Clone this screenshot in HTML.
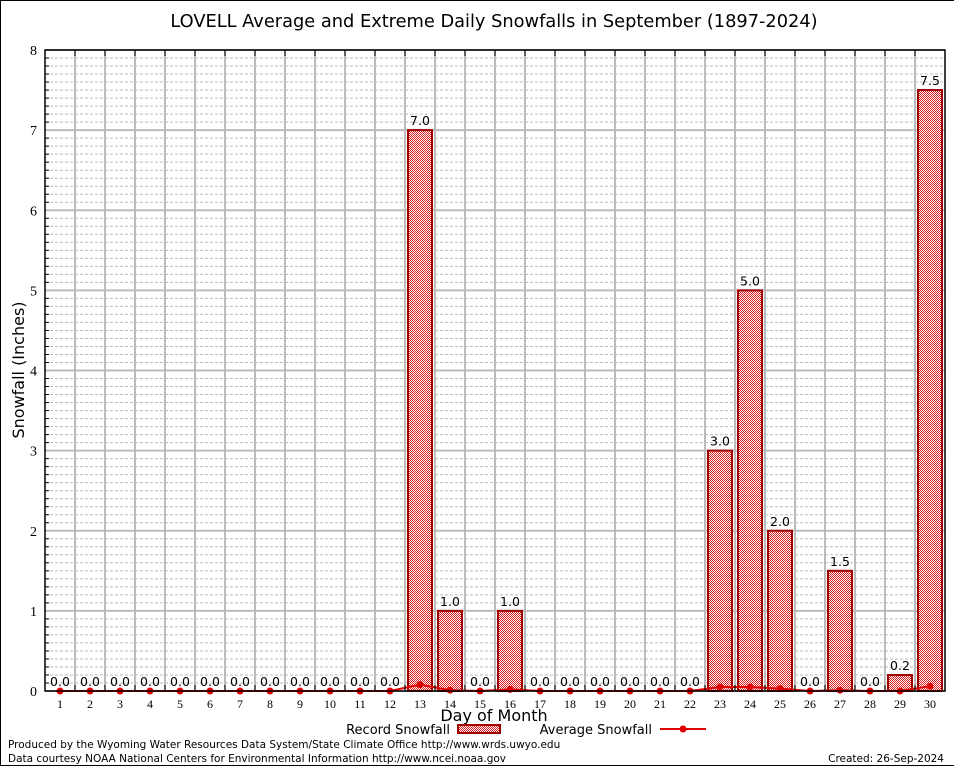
<!DOCTYPE html>
<html><head><meta charset="utf-8"><style>
body{margin:0;background:#fff;}
svg{display:block;font-family:"DejaVu Sans","Liberation Sans",sans-serif;}
</style></head><body>
<svg id="c" width="954" height="768" xmlns="http://www.w3.org/2000/svg">
<defs><pattern id="chk" width="2" height="2" patternUnits="userSpaceOnUse"><rect width="2" height="2" fill="#fff"/><rect width="1" height="1" fill="#d82020"/><rect x="1" y="1" width="1" height="1" fill="#d82020"/></pattern></defs>
<rect x="0.5" y="0.5" width="960" height="765" fill="none" stroke="#000"/>
<text x="494" y="27" font-size="17.8" text-anchor="middle">LOVELL Average and Extreme Daily Snowfalls in September (1897-2024)</text>
<g id="grid"></g><g id="bars"></g><g id="avg"></g><g id="axes"></g>
<text x="24" y="370" font-size="16" text-anchor="middle" transform="rotate(-90 24 370)">Snowfall (Inches)</text>
<text x="494" y="721" font-size="16" text-anchor="middle">Day of Month</text>
<g>
<text x="450" y="734" font-size="13" text-anchor="end">Record Snowfall</text>
<rect x="458" y="725" width="42" height="8" fill="url(#chk)" stroke="#a00000" stroke-width="2"/>
<text x="652" y="734" font-size="13" text-anchor="end">Average Snowfall</text>
<line x1="660" y1="729" x2="706" y2="729" stroke="#e00000" stroke-width="2"/>
<circle cx="683" cy="729" r="3.5" fill="#e00000"/>
</g>
<text x="8" y="748" font-size="10.5">Produced by the Wyoming Water Resources Data System/State Climate Office http://www.wrds.uwyo.edu</text>
<text x="8" y="762" font-size="10.5">Data courtesy NOAA National Centers for Environmental Information http://www.ncei.noaa.gov</text>
<text x="944" y="762" font-size="10.5" text-anchor="end">Created: 26-Sep-2024</text>
</svg>
<script>
const days=[1,2,3,4,5,6,7,8,9,10,11,12,13,14,15,16,17,18,19,20,21,22,23,24,25,26,27,28,29,30];
const recordValues=[0,0,0,0,0,0,0,0,0,0,0,0,7.0,1.0,0,1.0,0,0,0,0,0,0,3.0,5.0,2.0,0,1.5,0,0.2,7.5];
const averageValues=[0,0,0,0,0,0,0,0,0,0,0,0,0.08,0.01,0,0.02,0,0,0,0,0,0,0.05,0.05,0.03,0,0.01,0,0.0,0.06];
const yTicks=[0,1,2,3,4,5,6,7,8];
const L=45,R=945,T=50,B=691,YMAX=8;
const NS="http://www.w3.org/2000/svg";
const xs=d=>L+(d-0.5)*(R-L)/days.length;
const ys=v=>B-v/YMAX*(B-T);
function mk(p,t,a){const e=document.createElementNS(NS,t);for(const k in a)e.setAttribute(k,a[k]);p.appendChild(e);return e;}
const g=document.getElementById('grid'),bg=document.getElementById('bars'),ag=document.getElementById('avg'),ax=document.getElementById('axes');
for(let i=1;i<YMAX*10;i++){if(i%10==0)continue;const l=mk(g,'line',{x1:L,x2:R,y1:ys(i/10),y2:ys(i/10),stroke:'#bbb','stroke-dasharray':'3,2','stroke-width':1});


const tk=mk(ax,'line',{x1:L,x2:L+4,y1:ys(i/10),y2:ys(i/10),stroke:'#000'});

}
yTicks.forEach(v=>{const l=mk(g,'line',{x1:L,x2:R,y1:ys(v),y2:ys(v),stroke:'#bbb','stroke-width':2});


const t=mk(ax,'text',{x:L-8,y:ys(v)+5,'font-size':14,'text-anchor':'end','font-family':'Liberation Serif,serif'});t.textContent=v;

});
days.forEach((d,i)=>{const x=xs(d)+15;if(i<days.length-1){const l=mk(g,'line',{x1:x,x2:x,y1:T,y2:B,stroke:'#bbb','stroke-width':2});


const tk=mk(ax,'line',{x1:x,x2:x,y1:T,y2:T+6,stroke:'#000'});


const tb=mk(ax,'line',{x1:x,x2:x,y1:B,y2:B-6,stroke:'#000'});

}
const t=mk(ax,'text',{x:xs(d),y:B+17,'font-size':12,'text-anchor':'middle','font-family':'Liberation Serif,serif'});t.textContent=d;

});
const fr=mk(ax,'rect',{x:L,y:T,width:R-L,height:B-T,fill:'none',stroke:'#000','stroke-width':1.5});


days.forEach((d,i)=>{const v=recordValues[i];
if(v>0){const r=mk(bg,'rect',{x:xs(d)-12,y:ys(v),width:24,height:B-ys(v),fill:'url(#chk)',stroke:'#a00000','stroke-width':2});

}
const t=mk(bg,'text',{x:xs(d),y:ys(v)-5,'font-size':12.5,'text-anchor':'middle'});t.textContent=v.toFixed(1);

});
const pl=mk(ag,'polyline',{points:days.map((d,i)=>xs(d)+','+ys(averageValues[i])).join(' '),fill:'none',stroke:'#e00000','stroke-width':2});


days.forEach((d,i)=>{const c=mk(ag,'circle',{cx:xs(d),cy:ys(averageValues[i]),r:3.5,fill:'#e00000'});

});
</script>
</body></html>
